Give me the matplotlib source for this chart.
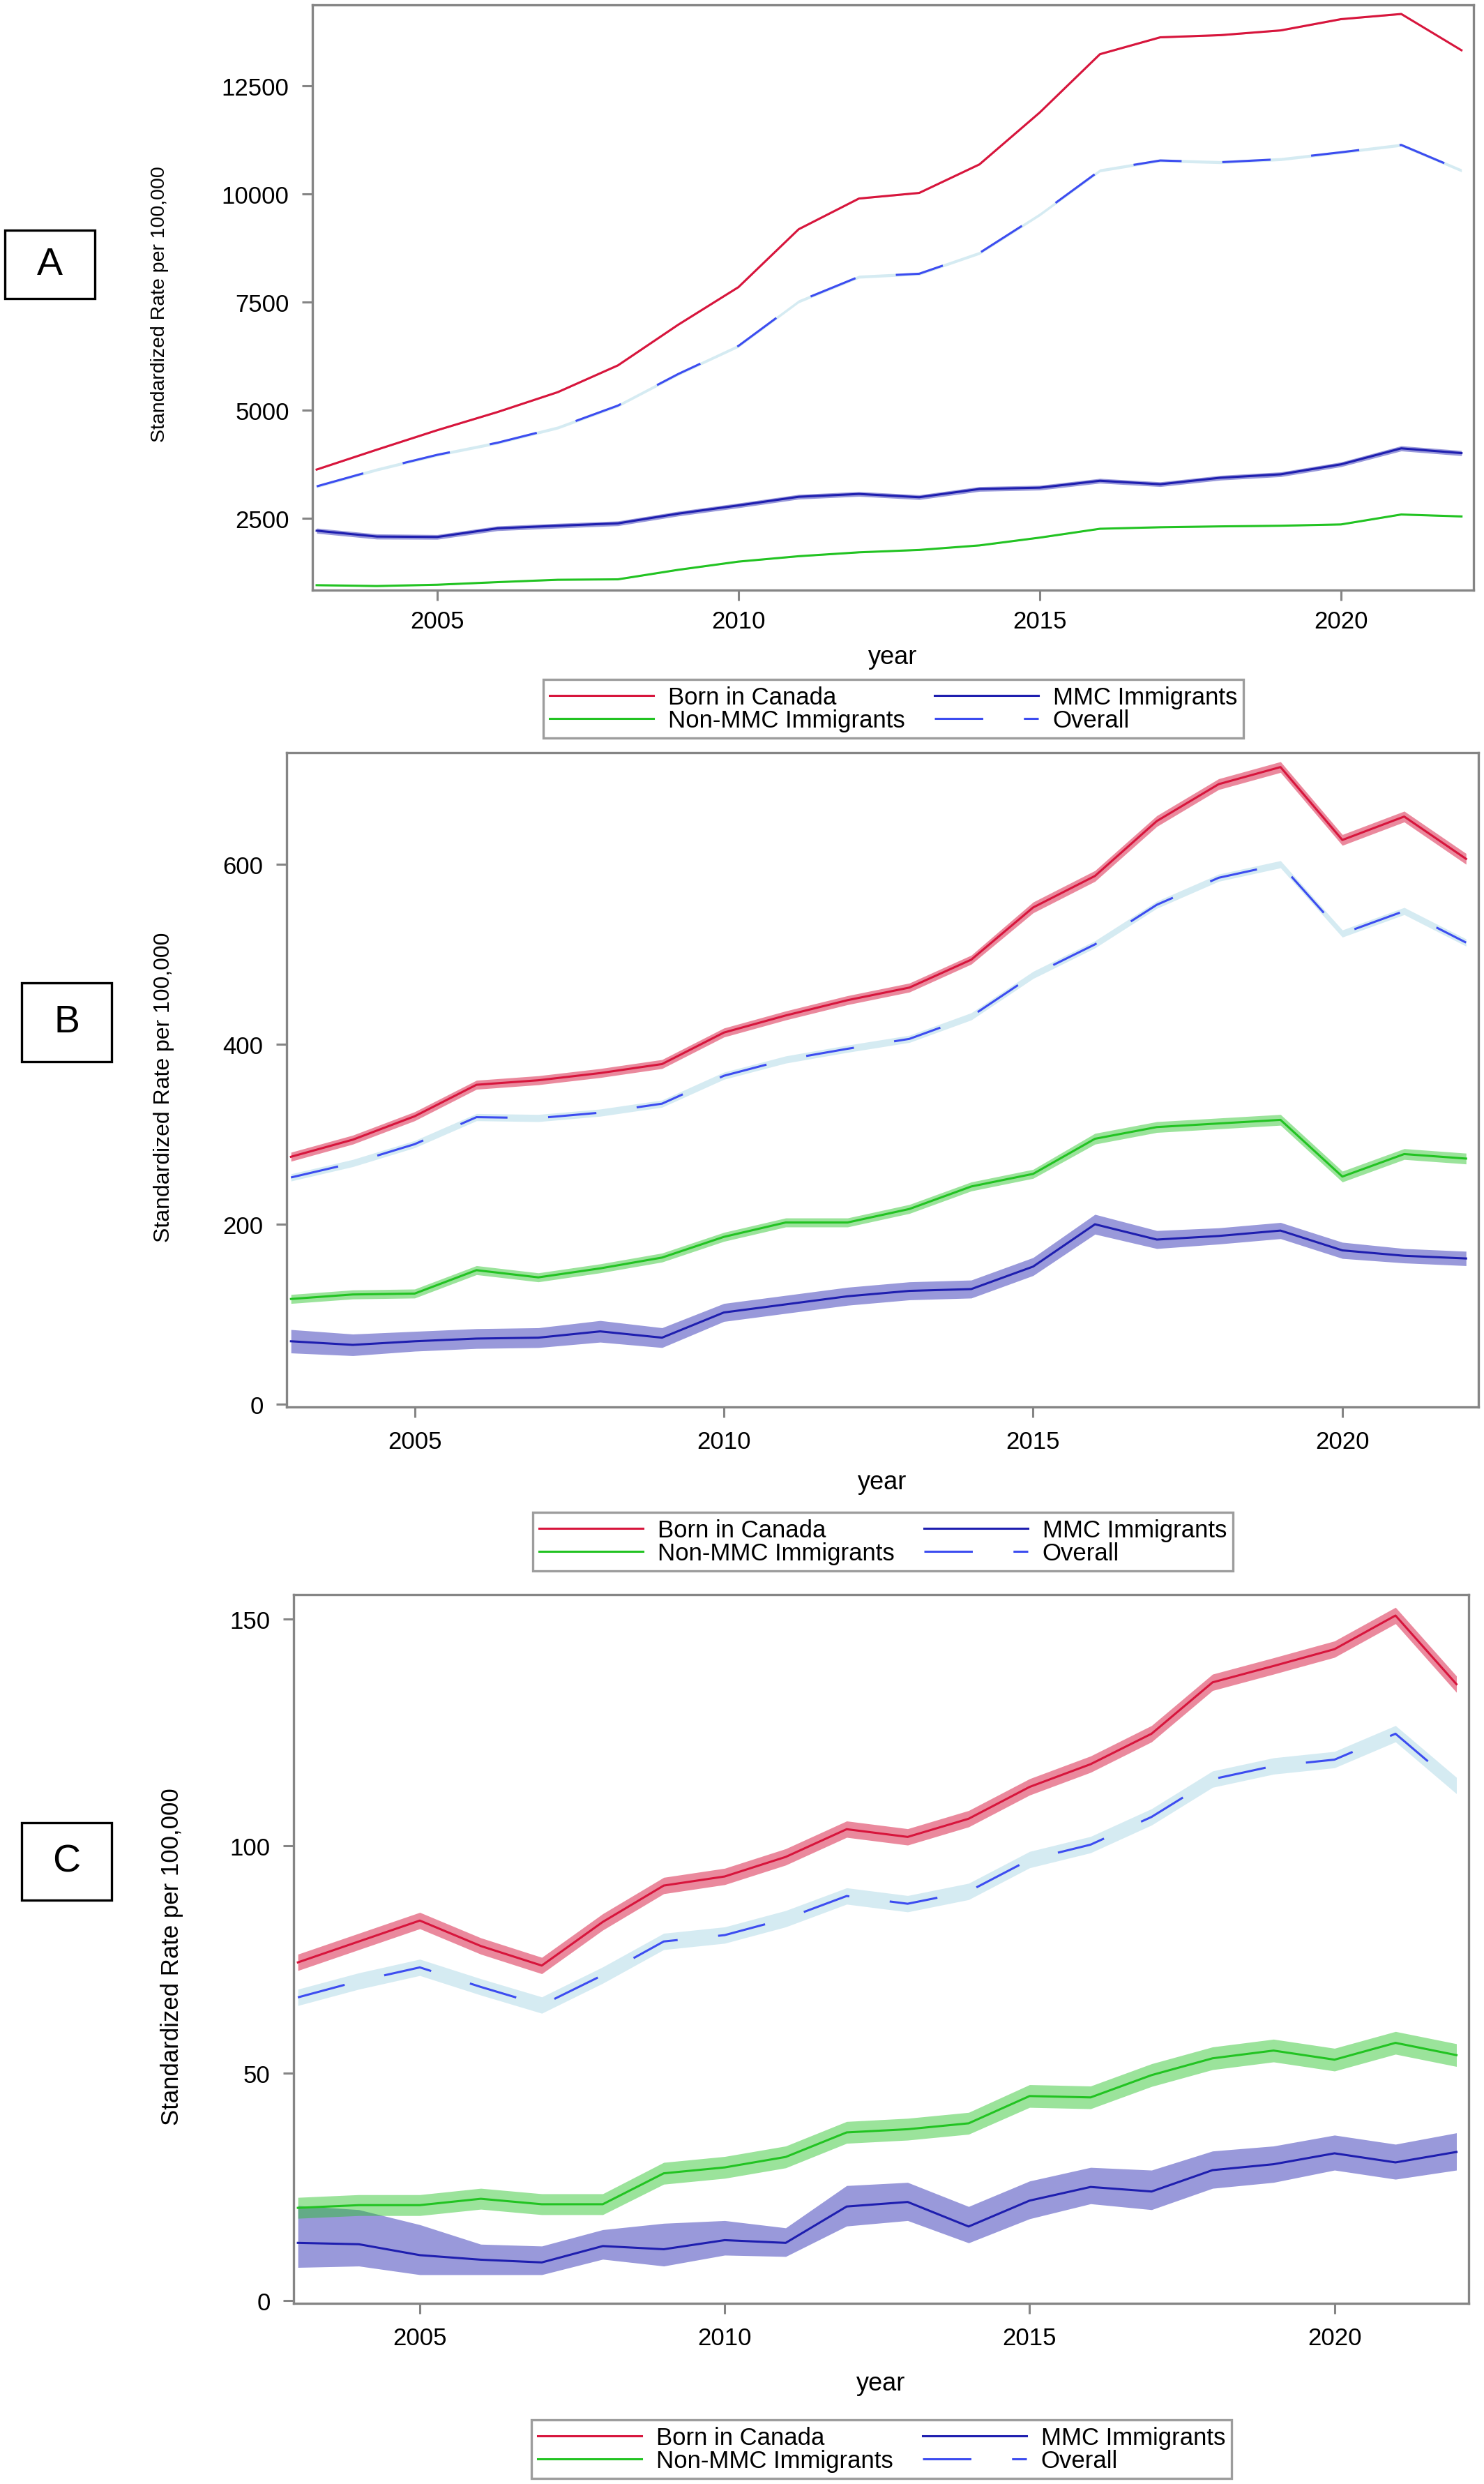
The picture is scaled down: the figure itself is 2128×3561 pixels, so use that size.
import numpy as np
import matplotlib.pyplot as plt
from matplotlib.lines import Line2D
from matplotlib.patches import Rectangle

# values
years = list(range(2003, 2023))

# panel A
a_born = [3630, 4090, 4540, 4960, 5420, 6040, 6980, 7850, 9190, 9900,
          10030, 10690, 11890, 13240, 13630, 13680, 13790, 14050, 14170, 13330]
a_overall = [3240, 3630, 3970, 4250, 4600, 5110, 5840, 6490, 7520, 8090,
             8160, 8640, 9530, 10550, 10780, 10740, 10810, 10970, 11140, 10550]
a_mmc = [2215, 2080, 2070, 2270, 2330, 2385, 2610, 2800, 3000, 3065,
         2990, 3180, 3210, 3370, 3290, 3440, 3520, 3750, 4120, 4010]
a_nonmmc = [955, 935, 965, 1025, 1080, 1090, 1310, 1500, 1625, 1715,
            1770, 1875, 2055, 2260, 2295, 2315, 2330, 2360, 2590, 2545]
a_born_ci = [15] * 20
a_overall_ci = [35] * 20
a_mmc_ci = [60, 60, 55, 55, 55, 55, 55, 55, 55, 55, 55, 55, 55, 55, 55, 55, 55, 55, 60, 60]
a_nonmmc_ci = [12] * 20

# panel B
b_born = [275, 294, 320, 355, 360, 368, 378, 413, 432, 449,
          463, 494, 552, 587, 648, 689, 708, 627, 653, 606]
b_overall = [252, 268, 289, 319, 318, 324, 334, 365, 383, 395,
             406, 431, 477, 511, 555, 585, 600, 523, 548, 513]
b_nonmmc = [117, 122, 123, 149, 141, 151, 163, 186, 202, 202,
            217, 242, 256, 295, 308, 312, 316, 253, 278, 273]
b_mmc = [70, 66, 70, 73, 74, 81, 74, 102, 111, 120,
         126, 128, 153, 200, 183, 187, 193, 171, 165, 162]
b_born_ci = [5, 5, 5, 5, 5, 5, 5, 5, 5, 5, 5, 5, 6, 6, 6, 6, 6, 6, 6, 6]
b_overall_ci = [4] * 20
b_nonmmc_ci = [5, 5, 5, 5, 5, 5, 5, 5, 5, 5, 5, 5, 5, 6, 6, 6, 6, 6, 6, 6]
b_mmc_ci = [13, 12, 11, 11, 11, 12, 11, 10, 10, 10, 10, 10, 10, 11, 10, 9, 9, 9, 8, 8]

# panel C
c_born = [74.4, 79.0, 83.6, 78.0, 73.7, 83.3, 91.3, 93.3, 97.6, 103.7,
          102.0, 106.0, 113.0, 118.0, 124.7, 136.0, 139.6, 143.3, 150.7, 135.6]
c_overall = [66.7, 70.3, 73.3, 69.0, 65.0, 71.6, 79.0, 80.4, 84.0, 89.0,
             87.3, 90.0, 97.0, 100.3, 106.4, 114.7, 117.6, 119.0, 124.7, 113.3]
c_nonmmc = [20.4, 21.0, 21.0, 22.4, 21.2, 21.2, 28.0, 29.3, 31.6, 37.0,
            37.7, 39.0, 45.0, 44.7, 49.6, 53.3, 55.0, 53.0, 56.7, 54.0]
c_mmc = [12.7, 12.4, 10.0, 9.0, 8.4, 12.0, 11.3, 13.3, 12.7, 20.7,
         21.7, 16.3, 22.0, 25.0, 24.0, 28.7, 30.0, 32.4, 30.4, 32.7]
c_mmc_lo = [7.3, 7.6, 5.7, 5.7, 5.7, 9.1, 7.6, 10.0, 9.7, 16.4,
            17.6, 12.7, 18.0, 21.3, 20.0, 24.7, 26.0, 28.7, 26.7, 28.7]
c_mmc_hi = [20.9, 20.0, 16.7, 12.4, 12.0, 15.6, 17.0, 17.6, 16.0, 25.3,
            26.0, 20.7, 26.3, 29.3, 28.7, 32.9, 34.0, 36.4, 34.4, 36.9]
c_born_ci = [1.8] * 20
c_overall_ci = [1.8] * 20
c_nonmmc_ci = [2.3, 2.3, 2.3, 2.3, 2.3, 2.3, 2.4, 2.4, 2.4, 2.4,
               2.4, 2.4, 2.5, 2.5, 2.5, 2.5, 2.5, 2.5, 2.5, 2.5]

labels = ['Born in Canada', 'MMC Immigrants', 'Non-MMC Immigrants', 'Overall']
xticks = [2005, 2010, 2015, 2020]

RED = '#D7153C'
GREEN = '#22C322'
NAVY = '#1E1EAF'
BLUE = '#3C4CF0'
LIGHTBLUE = '#ADD8E6'
GREY = '#858585'
DASH = (50, 42)

plt.rcParams['font.family'] = ['Liberation Sans', 'DejaVu Sans']
plt.rcParams['lines.scale_dashes'] = False

W, H = 2128, 3562
fig = plt.figure(figsize=(W / 100, H / 100), dpi=100)


def px_axes(left, top, right, bottom):
    return fig.add_axes([left / W, 1 - bottom / H, (right - left) / W, (bottom - top) / H])


def sym(vals, ci):
    v = np.array(vals, dtype=float)
    c = np.array(ci, dtype=float)
    return v - c, v + c


def draw_panel(ax, born, born_ci, overall, overall_ci, mmc, mmc_band, nonmmc, nonmmc_ci,
               ylim, yticks, ylab_size, ylab_x, xlab_y, xpad):
    lo, hi = sym(born, born_ci)
    ax.fill_between(years, lo, hi, color=RED, alpha=0.5, lw=0)
    lo, hi = sym(overall, overall_ci)
    ax.fill_between(years, lo, hi, color=LIGHTBLUE, alpha=0.5, lw=0)
    ax.fill_between(years, mmc_band[0], mmc_band[1], color=NAVY, alpha=0.45, lw=0)
    lo, hi = sym(nonmmc, nonmmc_ci)
    ax.fill_between(years, lo, hi, color=GREEN, alpha=0.45, lw=0)

    ax.plot(years, born, color=RED, lw=2.2)
    ax.plot(years, mmc, color=NAVY, lw=2.2)
    ax.plot(years, nonmmc, color=GREEN, lw=2.2)
    ax.plot(years, overall, color=BLUE, lw=2.2, dashes=DASH)

    ax.set_xlim(2002.93, 2022.2)
    ax.set_ylim(*ylim)
    ax.set_xticks(xticks)
    ax.set_yticks(yticks)
    ax.tick_params(direction='out', length=11, width=2.2, color=GREY,
                   labelsize=25, pad=13)
    ax.tick_params(axis='x', pad=xpad)
    for s in ax.spines.values():
        s.set_color(GREY)
        s.set_linewidth(2.4)
    ax.set_xlabel('year', fontsize=26)
    ax.set_ylabel('Standardized Rate per 100,000', fontsize=ylab_size)
    ax.yaxis.set_label_coords(ylab_x, 0.49)
    ax.xaxis.set_label_coords(0.5, xlab_y)


def add_legend(cx, cy):
    hs = [Line2D([], [], color=RED, lw=2.2),
          Line2D([], [], color=GREEN, lw=2.2),
          Line2D([], [], color=NAVY, lw=2.2),
          Line2D([], [], color=BLUE, lw=2.2, dashes=DASH)]
    labs = [labels[0], labels[2], labels[1], labels[3]]
    leg = fig.legend(hs, labs, loc='center', bbox_to_anchor=(cx / W, 1 - cy / H),
                     ncol=2, fontsize=25, frameon=True, fancybox=False,
                     handlelength=4.3, handletextpad=0.6, columnspacing=1.2,
                     labelspacing=0.0, borderpad=0.25, borderaxespad=0)
    fr = leg.get_frame()
    fr.set_edgecolor(GREY)
    fr.set_linewidth(2.4)


def panel_tag(letter, left, top, right, bottom):
    fig.patches.append(Rectangle((left / W, 1 - bottom / H), (right - left) / W,
                                 (bottom - top) / H, transform=fig.transFigure,
                                 fill=False, edgecolor='black', lw=2.4))
    fig.text((left + right) / 2 / W, 1 - (top + bottom) / 2 / H, letter,
             ha='center', va='center', fontsize=40)


# panel A
axA = px_axes(448, 8, 2113, 847)
draw_panel(axA, a_born, a_born_ci, a_overall, a_overall_ci, a_mmc, sym(a_mmc, a_mmc_ci),
           a_nonmmc, a_nonmmc_ci, (840, 14380), [2500, 5000, 7500, 10000, 12500],
           20.5, -0.124, -0.093, 9)
add_legend(1281, 1017)
panel_tag('A', 7, 331, 136, 429)

# panel B
axB = px_axes(411, 1080, 2120, 2018)
draw_panel(axB, b_born, b_born_ci, b_overall, b_overall_ci, b_mmc, sym(b_mmc, b_mmc_ci),
           b_nonmmc, b_nonmmc_ci, (-3, 724), [0, 200, 400, 600],
           23, -0.094, -0.096, 13)
add_legend(1266, 2211)
panel_tag('B', 31, 1410, 160, 1523)

# panel C
axC = px_axes(421, 2287, 2106, 3303)
draw_panel(axC, c_born, c_born_ci, c_overall, c_overall_ci, c_mmc, (c_mmc_lo, c_mmc_hi),
           c_nonmmc, c_nonmmc_ci, (-0.6, 155.3), [0, 50, 100, 150],
           25, -0.094, -0.095, 13)
add_legend(1264, 3512)
panel_tag('C', 31, 2614, 160, 2725)

fig.savefig('out.png', dpi=100)
